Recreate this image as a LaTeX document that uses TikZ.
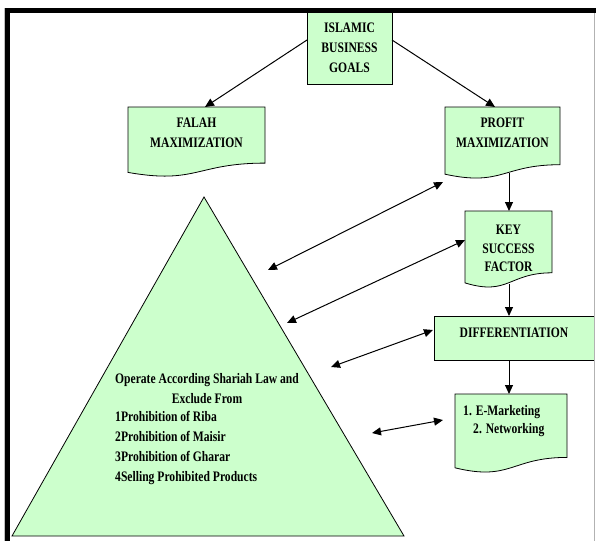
\documentclass[tikz,border=0pt]{standalone}
\usepackage{fontspec}
\setmainfont{Liberation Serif}[FakeStretch=0.8]
\usetikzlibrary{arrows.meta,backgrounds}
\definecolor{boxgreen}{HTML}{CCFFCC}
\begin{document}
\begin{tikzpicture}[x=1pt,y=-1pt,
  lbl/.style={font=\fontsize{14.5}{20}\selectfont\bfseries, inner sep=0pt},
  shapeline/.style={draw=black, line width=0.8pt, fill=boxgreen},
  conn/.style={line width=1pt, -{Triangle[length=9pt,width=8pt]}},
  biconn/.style={line width=1pt, {Triangle[length=9pt,width=8pt]}-{Triangle[length=9pt,width=8pt]}}]
\useasboundingbox (0,0) rectangle (596,541);

% boxes with text
\node[lbl, shapeline, minimum width=85pt, minimum height=72pt, align=center] (goals) at (349.5,48) {ISLAMIC\\BUSINESS\\GOALS};
\node[lbl, shapeline, minimum width=160pt, minimum height=44pt, text depth=10pt] (diff) at (514,338) {DIFFERENTIATION};
\node[lbl, align=center] (falah) at (196.5,133) {FALAH\\MAXIMIZATION};
\node[lbl, align=center] (profit) at (502.5,132.5) {PROFIT\\MAXIMIZATION};
\node[lbl, align=center, font=\fontsize{14.5}{18.5}\selectfont\bfseries] (key) at (508.5,248.5) {KEY\\SUCCESS\\FACTOR};
\node[lbl, align=left, anchor=west, font=\fontsize{14.5}{18}\selectfont\bfseries] (emkt) at (463,421) {1. E-Marketing\\\hspace*{10pt}2. Networking};
\node[lbl, align=center] (trihead) at (207,389) {Operate According Shariah Law and\\Exclude From};
\node[lbl, align=left, anchor=west, font=\fontsize{14.5}{19.7}\selectfont\bfseries] (trilist) at (115,448) {1Prohibition of Riba\\2Prohibition of Maisir\\3Prohibition of Gharar\\4Selling Prohibited Products};

% shapes behind text
\begin{scope}[on background layer]
\path[shapeline] (204,197) -- (404,536) -- (12,536) -- cycle;
\path[shapeline] (128,107) -- (265,107) -- (265,163.1) .. controls (196.5,163.1) and (196.5,184.5) .. (128,172.4) -- cycle;
\path[shapeline] (445,107) -- (560,107) -- (560,164.7) .. controls (502.5,164.7) and (502.5,186.7) .. (445,174.2) -- cycle;
\path[shapeline] (465,211) -- (552,211) -- (552,272.8) .. controls (508.5,272.8) and (508.5,296.2) .. (465,282.9) -- cycle;
\path[shapeline] (455,394) -- (567,394) -- (567,457.4) .. controls (511,457.4) and (511,481.5) .. (455,467.8) -- cycle;
\end{scope}

% connector end points
\coordinate (goalsL) at (307,40);
\coordinate (goalsR) at (392,40);
\coordinate (falahT) at (205,107);
\coordinate (profitT) at (495,107);
\coordinate (profitB) at (509,173);
\coordinate (keyT) at (509,211);
\coordinate (keyB) at (509,284);
\coordinate (diffT) at (509,316);
\coordinate (diffB) at (509,360);
\coordinate (emktT) at (509,394);
\coordinate (triA) at (268,270);
\coordinate (profitL) at (443,182);
\coordinate (triB) at (287,323);
\coordinate (keyL) at (465,240);
\coordinate (triC) at (331,367);
\coordinate (diffL) at (433,330);
\coordinate (triD) at (372,433);
\coordinate (emktL) at (443,420);

\draw[conn] (goalsL) -- (falahT);
\draw[conn] (goalsR) -- (profitT);
\draw[conn] (profitB) -- (keyT);
\draw[conn] (keyB) -- (diffT);
\draw[conn] (diffB) -- (emktT);
\draw[biconn] (triA) -- (profitL);
\draw[biconn] (triB) -- (keyL);
\draw[biconn] (triC) -- (diffL);
\draw[biconn] (triD) -- (emktL);

% page frame
\draw[gray!50, line width=0.8pt] (4,541) -- (4,8) -- (596,8);
\draw[gray!60, line width=1pt] (594.5,13) -- (594.5,541);
\draw[black, line width=5pt] (596,10.8) -- (7.5,10.8) -- (7.5,541);
\end{tikzpicture}
\end{document}
